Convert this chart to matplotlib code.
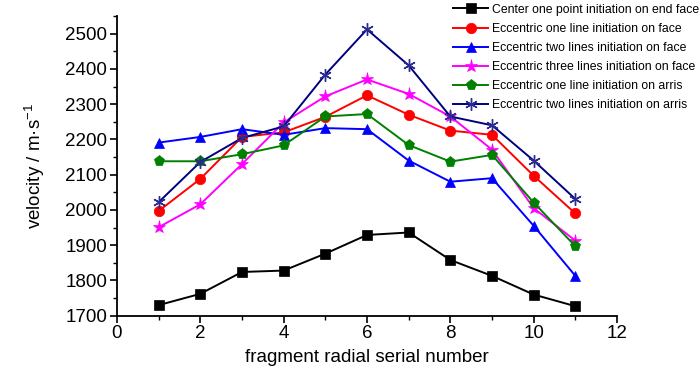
import matplotlib
matplotlib.use("Agg")
import matplotlib.pyplot as plt
from matplotlib.ticker import MultipleLocator
from matplotlib import font_manager

names = {f.name for f in font_manager.fontManager.ttflist}
main_font = "Liberation Sans" if "Liberation Sans" in names else "DejaVu Sans"

plt.rcParams['font.family'] = [main_font, 'DejaVu Sans']
plt.rcParams['mathtext.fontset'] = 'custom'
plt.rcParams['mathtext.rm'] = main_font
plt.rcParams['mathtext.it'] = main_font

x = [1, 2, 3, 4, 5, 6, 7, 8, 9, 10, 11]
labels = [
    "Center one point initiation on end face",
    "Eccentric one line initiation on face",
    "Eccentric two lines initiation on face",
    "Eccentric three lines initiation on face",
    "Eccentric one line initiation on arris",
    "Eccentric two lines initiation on arris",
]
center_end = [1730, 1762, 1824, 1828, 1876, 1929, 1936, 1858, 1813, 1760, 1727]
ecc1_face = [1997, 2088, 2207, 2220, 2264, 2325, 2270, 2225, 2213, 2097, 1990]
ecc2_face = [2191, 2207, 2229, 2213, 2232, 2229, 2140, 2080, 2090, 1955, 1813]
ecc3_face = [1951, 2016, 2130, 2248, 2322, 2370, 2329, 2265, 2171, 2005, 1913]
ecc1_arris = [2138, 2138, 2158, 2183, 2265, 2272, 2184, 2137, 2156, 2021, 1897]
ecc2_arris = [2022, 2136, 2204, 2237, 2384, 2512, 2410, 2265, 2240, 2140, 2031]

series = [center_end, ecc1_face, ecc2_face, ecc3_face, ecc1_arris, ecc2_arris]
colors = ['black', '#FF0000', '#0000FF', '#FF00FF', '#008000', '#000080']
markers = ['s', 'o', '^', '*', 'p', (6, 2, 0)]
msizes = [6.5, 7.5, 7.5, 9.5, 8, 9]

fig = plt.figure(figsize=(7.0, 3.74), dpi=100)
ax = fig.add_axes([117/700, 1 - 315.7/374, 500/700, (315.7-16)/374])

handles = []
for ys, c, m, ms, lab in zip(series, colors, markers, msizes, labels):
    star = (m == (6, 2, 0))
    h, = ax.plot(x, ys, color=c, marker=m, markersize=ms, linewidth=1.4,
                 markeredgewidth=1.0 if star else 0.5,
                 markeredgecolor='#2a2a90' if star else c,
                 markerfacecolor=c, label=lab, clip_on=False)
    handles.append(h)

ax.set_xlim(0, 12)
ax.set_ylim(1700, 2550)
ax.xaxis.set_major_locator(MultipleLocator(2))
ax.xaxis.set_minor_locator(MultipleLocator(1))
ax.yaxis.set_minor_locator(MultipleLocator(50))
ax.set_yticks(range(1700, 2501, 100))
for s in ['top', 'right']:
    ax.spines[s].set_visible(False)
for s in ['left', 'bottom']:
    ax.spines[s].set_linewidth(1.3)
ax.tick_params(which='major', direction='out', length=5, width=1.2, labelsize=13.5, pad=2)
ax.tick_params(which='minor', direction='out', length=3, width=1.0)

ax.set_xlabel("fragment radial serial number", fontsize=13.5, labelpad=5)
ax.set_ylabel("velocity / m·s$^{-1}$", fontsize=13.5, labelpad=13)

leg = fig.legend(handles=handles, loc='upper left', bbox_to_anchor=(453/700, 0.99),
                 frameon=False, prop={'size': 8.8},
                 handlelength=2.9, handletextpad=0.25, labelspacing=0.58,
                 borderaxespad=0, borderpad=0)

fig.savefig("out.png", dpi=100)
